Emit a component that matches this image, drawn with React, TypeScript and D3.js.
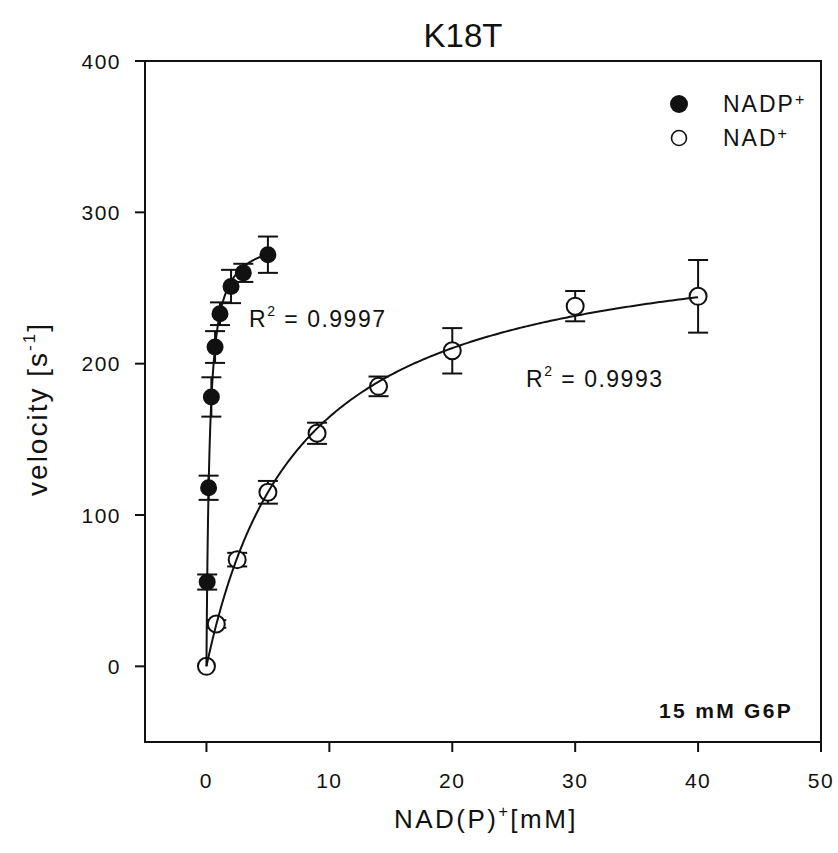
import React from "react";
import * as d3 from "d3";

// ---- data ----
const nadpX = [0.06, 0.175, 0.4, 0.7, 1.1, 2, 3, 5];
const nadpY = [55.7, 118, 178, 211, 233, 251, 260, 272];
const nadpErr = [5, 8, 13, 10.5, 7.5, 11, 6, 12];

const nadX = [0, 0.8, 2.5, 5, 9, 14, 20, 30, 40];
const nadY = [0, 28, 70.5, 115, 154, 185, 208.5, 238, 244.5];
const nadErr = [0, 2.5, 4.5, 7.5, 7, 6.5, 15, 10, 24];

// Michaelis–Menten fit parameters (Vmax, Km) and fit ranges
const nadpFit = { vmax: 286, km: 0.25, xmax: 5 };
const nadFit = { vmax: 290.5, km: 7.63, xmax: 40 };

const xTicks = [0, 10, 20, 30, 40, 50];
const yTicks = [0, 100, 200, 300, 400];

const W = 838;
const H = 853;
const FONT = "'Liberation Sans', Arial, Helvetica, sans-serif";

export default function App() {
  const x = d3.scaleLinear().domain([-5, 50]).range([145, 821]);
  const y = d3.scaleLinear().domain([-50, 400]).range([742, 61]);

  const mm = (p: { vmax: number; km: number }) => (s: number) => (p.vmax * s) / (p.km + s);

  const curve = (p: { vmax: number; km: number; xmax: number }) => {
    const f = mm(p);
    const n = 300;
    const pts: [number, number][] = [];
    for (let i = 0; i <= n; i++) {
      const t = i / n;
      const s = p.xmax * t * t;
      pts.push([s, f(s)]);
    }
    return d3
      .line<[number, number]>()
      .x((d) => x(d[0]))
      .y((d) => y(d[1]))(pts) as string;
  };

  const capW = 10;
  const r = 8.5;

  const errBars = (xs: number[], ys: number[], es: number[], key: string) =>
    xs.map((xv, i) => {
      if (!es[i]) return null;
      const cx = x(xv);
      const y1 = y(ys[i] + es[i]);
      const y2 = y(ys[i] - es[i]);
      return (
        <g key={key + i} stroke="#111" strokeWidth={2}>
          <line x1={cx} x2={cx} y1={y1} y2={y2} />
          <line x1={cx - capW} x2={cx + capW} y1={y1} y2={y1} />
          <line x1={cx - capW} x2={cx + capW} y1={y2} y2={y2} />
        </g>
      );
    });

  return (
    <svg
      width={W}
      height={H}
      style={{ position: "absolute", left: 0, top: 0, background: "#fff" }}
      fontFamily={FONT}
    >
      <rect x={0} y={0} width={W} height={H} fill="#fff" />
      {/* title */}
      <text x={463} y={47} textAnchor="middle" fontSize={33} fill="#111">
        K18T
      </text>

      {/* frame */}
      <rect
        x={x(-5)}
        y={y(400)}
        width={x(50) - x(-5)}
        height={y(-50) - y(400)}
        fill="none"
        stroke="#111"
        strokeWidth={2}
      />

      {/* x ticks */}
      {xTicks.map((t) => (
        <g key={"xt" + t}>
          <line x1={x(t)} x2={x(t)} y1={y(-50)} y2={y(-50) + 10} stroke="#111" strokeWidth={2} />
          <text x={x(t)} y={788} textAnchor="middle" fontSize={21} fill="#111" letterSpacing={1.5}>
            {t}
          </text>
        </g>
      ))}
      {/* y ticks */}
      {yTicks.map((t) => (
        <g key={"yt" + t}>
          <line x1={x(-5) - 10} x2={x(-5)} y1={y(t)} y2={y(t)} stroke="#111" strokeWidth={2} />
          <text x={121} y={y(t) + 7.5} textAnchor="end" fontSize={21} fill="#111" letterSpacing={1.5}>
            {t}
          </text>
        </g>
      ))}

      {/* axis titles */}
      <text x={486} y={828} textAnchor="middle" fontSize={26} fill="#111" letterSpacing={2.5}>
        NAD(P)
        <tspan fontSize={16} dy={-11}>+</tspan>
        <tspan dy={11}>[mM]</tspan>
      </text>
      <text
        transform={`translate(47, 409) rotate(-90)`}
        textAnchor="middle"
        fontSize={28}
        fill="#111"
        letterSpacing={2}
      >
        velocity [s
        <tspan fontSize={17} dy={-12}>-1</tspan>
        <tspan dy={12}>]</tspan>
      </text>

      {/* error bars */}
      {errBars(nadpX, nadpY, nadpErr, "ep")}
      {errBars(nadX, nadY, nadErr, "en")}

      {/* points */}
      {nadX.map((xv, i) => (
        <circle key={"on" + i} cx={x(xv)} cy={y(nadY[i])} r={r} fill="#fff" stroke="#111" strokeWidth={2} />
      ))}
      {nadpX.map((xv, i) => (
        <circle key={"fp" + i} cx={x(xv)} cy={y(nadpY[i])} r={r} fill="#111" />
      ))}

      {/* fitted curves */}
      <path d={curve(nadpFit)} fill="none" stroke="#111" strokeWidth={2} />
      <path d={curve(nadFit)} fill="none" stroke="#111" strokeWidth={2} />

      {/* R² labels */}
      <text x={249} y={327} fontSize={23} fill="#111" letterSpacing={1.5}>
        R<tspan fontSize={14} dy={-11}>2</tspan>
        <tspan dy={11}> = 0.9997</tspan>
      </text>
      <text x={526} y={387} fontSize={23} fill="#111" letterSpacing={1.5}>
        R<tspan fontSize={14} dy={-11}>2</tspan>
        <tspan dy={11}> = 0.9993</tspan>
      </text>

      {/* legend */}
      <circle cx={679} cy={104} r={9} fill="#111" />
      <text x={723} y={112} fontSize={23} fill="#111" letterSpacing={2}>
        NADP<tspan fontSize={16} dy={-7}>+</tspan>
      </text>
      <circle cx={679} cy={138} r={7.5} fill="none" stroke="#111" strokeWidth={1.6} />
      <text x={723} y={146} fontSize={23} fill="#111" letterSpacing={2}>
        NAD<tspan fontSize={16} dy={-7}>+</tspan>
      </text>

      {/* condition note */}
      <text x={793} y={718} textAnchor="end" fontSize={21} fontWeight="bold" fill="#111" letterSpacing={2.3}>
        15 mM G6P
      </text>
    </svg>
  );
}
